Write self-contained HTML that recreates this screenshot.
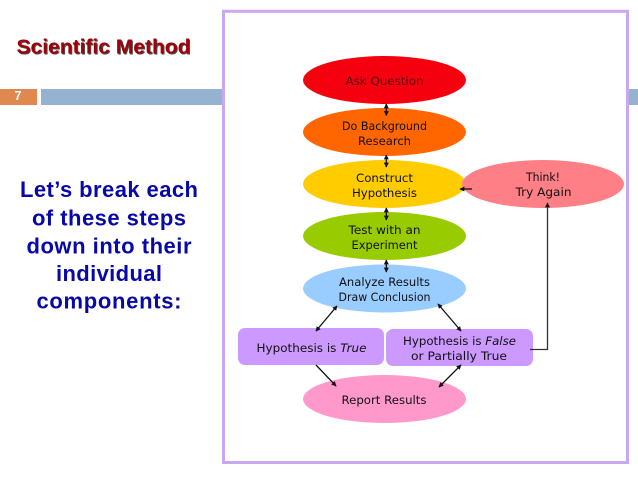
<!DOCTYPE html>
<html><head><meta charset="utf-8"><style>
html,body{margin:0;padding:0;background:#fff}
svg{display:block}
.d{font-family:"DejaVu Sans","Liberation Sans",sans-serif;font-size:11.5px;fill:#111;text-anchor:middle}
.b{font-family:"Liberation Sans",sans-serif;font-weight:bold;font-size:22px;fill:#0808a8;text-anchor:middle}
.t{font-family:"Liberation Sans",sans-serif;font-weight:bold;font-size:20px}
</style></head><body>
<svg width="638" height="479" viewBox="0 0 638 479" xmlns="http://www.w3.org/2000/svg">
<defs>
<marker id="a" viewBox="0 0 8 8" refX="7" refY="4" markerWidth="5" markerHeight="5" markerUnits="userSpaceOnUse" orient="auto-start-reverse"><path d="M0 0L8 4L0 8Z" fill="#111"/></marker>
</defs>
<rect width="638" height="479" fill="#fff"/>
<rect x="0" y="89" width="37" height="16" fill="#e08850"/>
<rect x="41" y="89" width="182" height="16" fill="#95b3d0"/>
<rect x="628" y="89" width="10" height="16" fill="#95b3d0"/>
<text x="18" y="100" font-family="Liberation Sans" font-weight="bold" font-size="12.500" fill="#fff" text-anchor="middle">7</text>
<text class="t" x="17.500" y="54.700" fill="#4a4a4a" textLength="174" lengthAdjust="spacingAndGlyphs">Scientific Method</text>
<text class="t" x="16.500" y="53.700" fill="#a00008" textLength="174" lengthAdjust="spacingAndGlyphs">Scientific Method</text>
<text class="b" x="109" y="197" textLength="178" lengthAdjust="spacing">Let’s break each</text>
<text class="b" x="109" y="225.500" textLength="154" lengthAdjust="spacing">of these steps</text>
<text class="b" x="109" y="253.500" textLength="165" lengthAdjust="spacing">down into their</text>
<text class="b" x="109" y="281" textLength="106" lengthAdjust="spacing">individual</text>
<text class="b" x="109" y="308.500" textLength="145" lengthAdjust="spacing">components:</text>
<rect x="223.500" y="11.300" width="404" height="451.200" fill="#fff" stroke="#c9a8f0" stroke-width="3"/>
<ellipse cx="384.500" cy="80" rx="81.500" ry="24" fill="#f5000f"/>
<ellipse cx="384.500" cy="132" rx="81.500" ry="24" fill="#ff6600"/>
<ellipse cx="384.500" cy="184" rx="81.500" ry="24" fill="#ffcc00"/>
<ellipse cx="384.500" cy="236" rx="81.500" ry="24" fill="#99cc00"/>
<ellipse cx="384.500" cy="288.500" rx="81.500" ry="24" fill="#99ccff"/>
<ellipse cx="384.500" cy="399" rx="81.500" ry="24" fill="#ff99cc"/>
<ellipse cx="543" cy="184" rx="81" ry="24" fill="#ff7f86"/>
<rect x="238" y="328" width="146" height="37" rx="7" fill="#cc99ff"/>
<rect x="386" y="329" width="147" height="37" rx="7" fill="#cc99ff"/>
<g stroke="#111" stroke-width="1.300" fill="none" marker-start="url(#a)" marker-end="url(#a)">
<line x1="386.300" y1="104" x2="386.300" y2="115.500"/>
<line x1="386.300" y1="155" x2="386.300" y2="167"/>
<line x1="386.300" y1="208" x2="386.300" y2="220"/>
<line x1="386.300" y1="260" x2="386.300" y2="272"/>
<line x1="337" y1="306" x2="316" y2="331"/>
<line x1="438" y1="304" x2="461" y2="331"/>
<line x1="461" y1="365" x2="439" y2="387"/>
</g>
<g stroke="#111" stroke-width="1.300" fill="none" marker-end="url(#a)">
<line x1="316" y1="365" x2="336" y2="386"/>
<line x1="472" y1="189" x2="460" y2="189"/>
<path d="M530 349.500H547.500V203" stroke="#333"/>
</g>
<text class="d" x="384.500" y="85" textLength="78" lengthAdjust="spacingAndGlyphs" style="fill:#5a0010">Ask Question</text>
<text class="d" x="384.500" y="130" textLength="85" lengthAdjust="spacingAndGlyphs">Do Background</text>
<text class="d" x="384.500" y="145" textLength="53" lengthAdjust="spacingAndGlyphs">Research</text>
<text class="d" x="384.500" y="182" textLength="57" lengthAdjust="spacingAndGlyphs">Construct</text>
<text class="d" x="384.500" y="197" textLength="65" lengthAdjust="spacingAndGlyphs">Hypothesis</text>
<text class="d" x="384.500" y="234" textLength="72" lengthAdjust="spacingAndGlyphs">Test with an</text>
<text class="d" x="384.500" y="249" textLength="66" lengthAdjust="spacingAndGlyphs">Experiment</text>
<text class="d" x="384.500" y="286" textLength="91" lengthAdjust="spacingAndGlyphs">Analyze Results</text>
<text class="d" x="384.500" y="301" textLength="92" lengthAdjust="spacingAndGlyphs">Draw Conclusion</text>
<text class="d" x="384" y="404" textLength="85" lengthAdjust="spacingAndGlyphs">Report Results</text>
<text class="d" x="543" y="181" textLength="34" lengthAdjust="spacingAndGlyphs">Think!</text>
<text class="d" x="543.500" y="196" textLength="56" lengthAdjust="spacingAndGlyphs">Try Again</text>
<text class="d" x="311.500" y="352" textLength="110" lengthAdjust="spacingAndGlyphs">Hypothesis is <tspan font-style="italic">True</tspan></text>
<text class="d" x="459.500" y="345" textLength="113" lengthAdjust="spacingAndGlyphs">Hypothesis is <tspan font-style="italic">False</tspan></text>
<text class="d" x="459" y="360" textLength="96" lengthAdjust="spacingAndGlyphs">or Partially True</text>
</svg>
</body></html>
